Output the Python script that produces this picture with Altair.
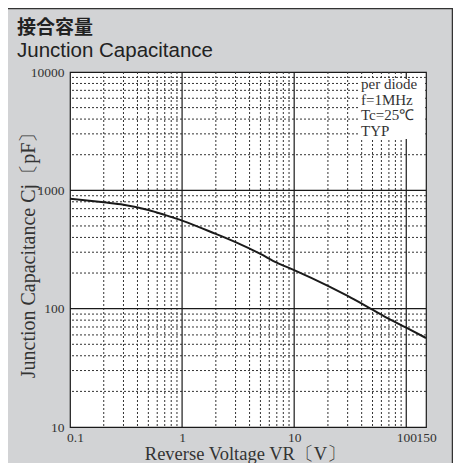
import altair as alt
import pandas as pd

# ---- data ----
voltage = [0.1, 0.2, 0.3, 0.5, 0.7, 1, 2, 3, 5, 7, 10, 20, 30, 50, 70, 100, 150]
capacitance = [850, 792, 757, 683, 620, 555, 428, 365, 290, 245, 212, 156, 128, 98, 82, 69, 56.5]

x_major = [1, 10, 100]
x_minor = [k * d for d in (0.1, 1, 10) for k in range(2, 10)]
y_major = [100, 1000]
y_minor = [k * d for d in (10, 100, 1000) for k in range(2, 10)]
x_ticks = [0.1, 1, 10, 100, 150]
y_ticks = [10, 100, 1000, 10000]
note_lines = ["per diode", "f=1MHz", "Tc=25℃", "TYP"]
title_jp = "接合容量"
title_en = "Junction Capacitance"
x_title = "Reverse Voltage  VR〔V〕"
y_title = "Junction Capacitance  Cj〔pF〕"

SERIF = "Liberation Serif"
W, H = 356, 355

xs = alt.Scale(type="log", domain=[0.1, 150], nice=False)
ys = alt.Scale(type="log", domain=[10, 10000], nice=False)

x_axis = alt.Axis(
    values=x_ticks, format="~g", ticks=False, domain=False, grid=False,
    labelOverlap=False, labelFlush=False,
    labelFont=SERIF, labelFontSize=13.5, labelColor="#333", labelPadding=3,
    labelOffset={"condition": {"test": "datum.value < 0.5", "value": 5}, "value": 0},
    title=x_title, titleFont=SERIF, titleFontSize=18.5, titleFontWeight="normal",
    titleColor="#333", titleX=175, titleY=32, titleBaseline="alphabetic",
)
y_axis = alt.Axis(
    values=y_ticks, format="d", ticks=False, domain=False, grid=False,
    labelOverlap=False, labelFlush=False,
    labelFont=SERIF, labelFontSize=13.5, labelColor="#333", labelPadding=6,
    title=y_title, titleFont=SERIF, titleFontSize=20, titleFontWeight="normal",
    titleColor="#333", titleX=-36, titleY=W / 2, titleAngle=270,
    titleBaseline="alphabetic", titleAlign="center",
)

X = alt.X("v:Q", scale=xs, axis=x_axis)
Y = alt.Y("c:Q", scale=ys, axis=y_axis)

curve_df = pd.DataFrame({"v": voltage, "c": capacitance})

vminor = alt.Chart(pd.DataFrame({"v": x_minor})).mark_rule(
    color="#333", strokeWidth=1, strokeDash=[2, 2]).encode(x=X)
hminor = alt.Chart(pd.DataFrame({"c": y_minor})).mark_rule(
    color="#333", strokeWidth=1, strokeDash=[2, 2]).encode(y=Y)
vmajor = alt.Chart(pd.DataFrame({"v": x_major})).mark_rule(
    color="#1a1a1a", strokeWidth=1.2).encode(x=X)
hmajor = alt.Chart(pd.DataFrame({"c": y_major})).mark_rule(
    color="#1a1a1a", strokeWidth=1.2).encode(y=Y)

one = pd.DataFrame({"a": [0]})
note_box = alt.Chart(one).mark_rect(color="white").encode(
    x=alt.value(289), x2=alt.value(355), y=alt.value(7), y2=alt.value(67))
note_text = alt.Chart(one).mark_text(
    text="\n".join(note_lines), lineBreak="\n", lineHeight=15.5,
    font=SERIF, fontSize=15, color="#333", align="left", baseline="alphabetic",
).encode(x=alt.value(291), y=alt.value(17))

curve = alt.Chart(curve_df).mark_line(
    color="#1a1a1a", strokeWidth=2, interpolate="monotone").encode(x=X, y=Y)

t_jp = alt.Chart(one).mark_text(
    text=title_jp, font="Noto Sans CJK JP", fontWeight="bold", fontSize=19,
    color="#222", align="left", baseline="alphabetic",
).encode(x=alt.value(-53), y=alt.value(-38))
t_en = alt.Chart(one).mark_text(
    text=title_en, font="Liberation Sans", fontSize=20.5,
    color="#222", align="left", baseline="alphabetic",
).encode(x=alt.value(-53), y=alt.value(-15))

top_line = alt.Chart(one).mark_rule(color="#333", strokeWidth=1.5).encode(
    x=alt.value(-62), x2=alt.value(383), y=alt.value(-63.5))
right_line = alt.Chart(one).mark_rule(color="#333", strokeWidth=1.5).encode(
    x=alt.value(382.5), y=alt.value(-64), y2=alt.value(400))

chart = alt.layer(
    vminor, hminor, vmajor, hmajor, note_box, note_text, curve,
    t_jp, t_en, top_line, right_line,
).properties(
    width=W, height=H,
    padding={"left": 62, "top": 64, "right": 27, "bottom": 36},
    autosize="none",
    background="#d2d3d5",
).configure_view(
    fill="white", stroke="#1a1a1a", strokeWidth=1.2,
)

chart.save("out.html", embed_options={"renderer": "svg", "actions": False})
